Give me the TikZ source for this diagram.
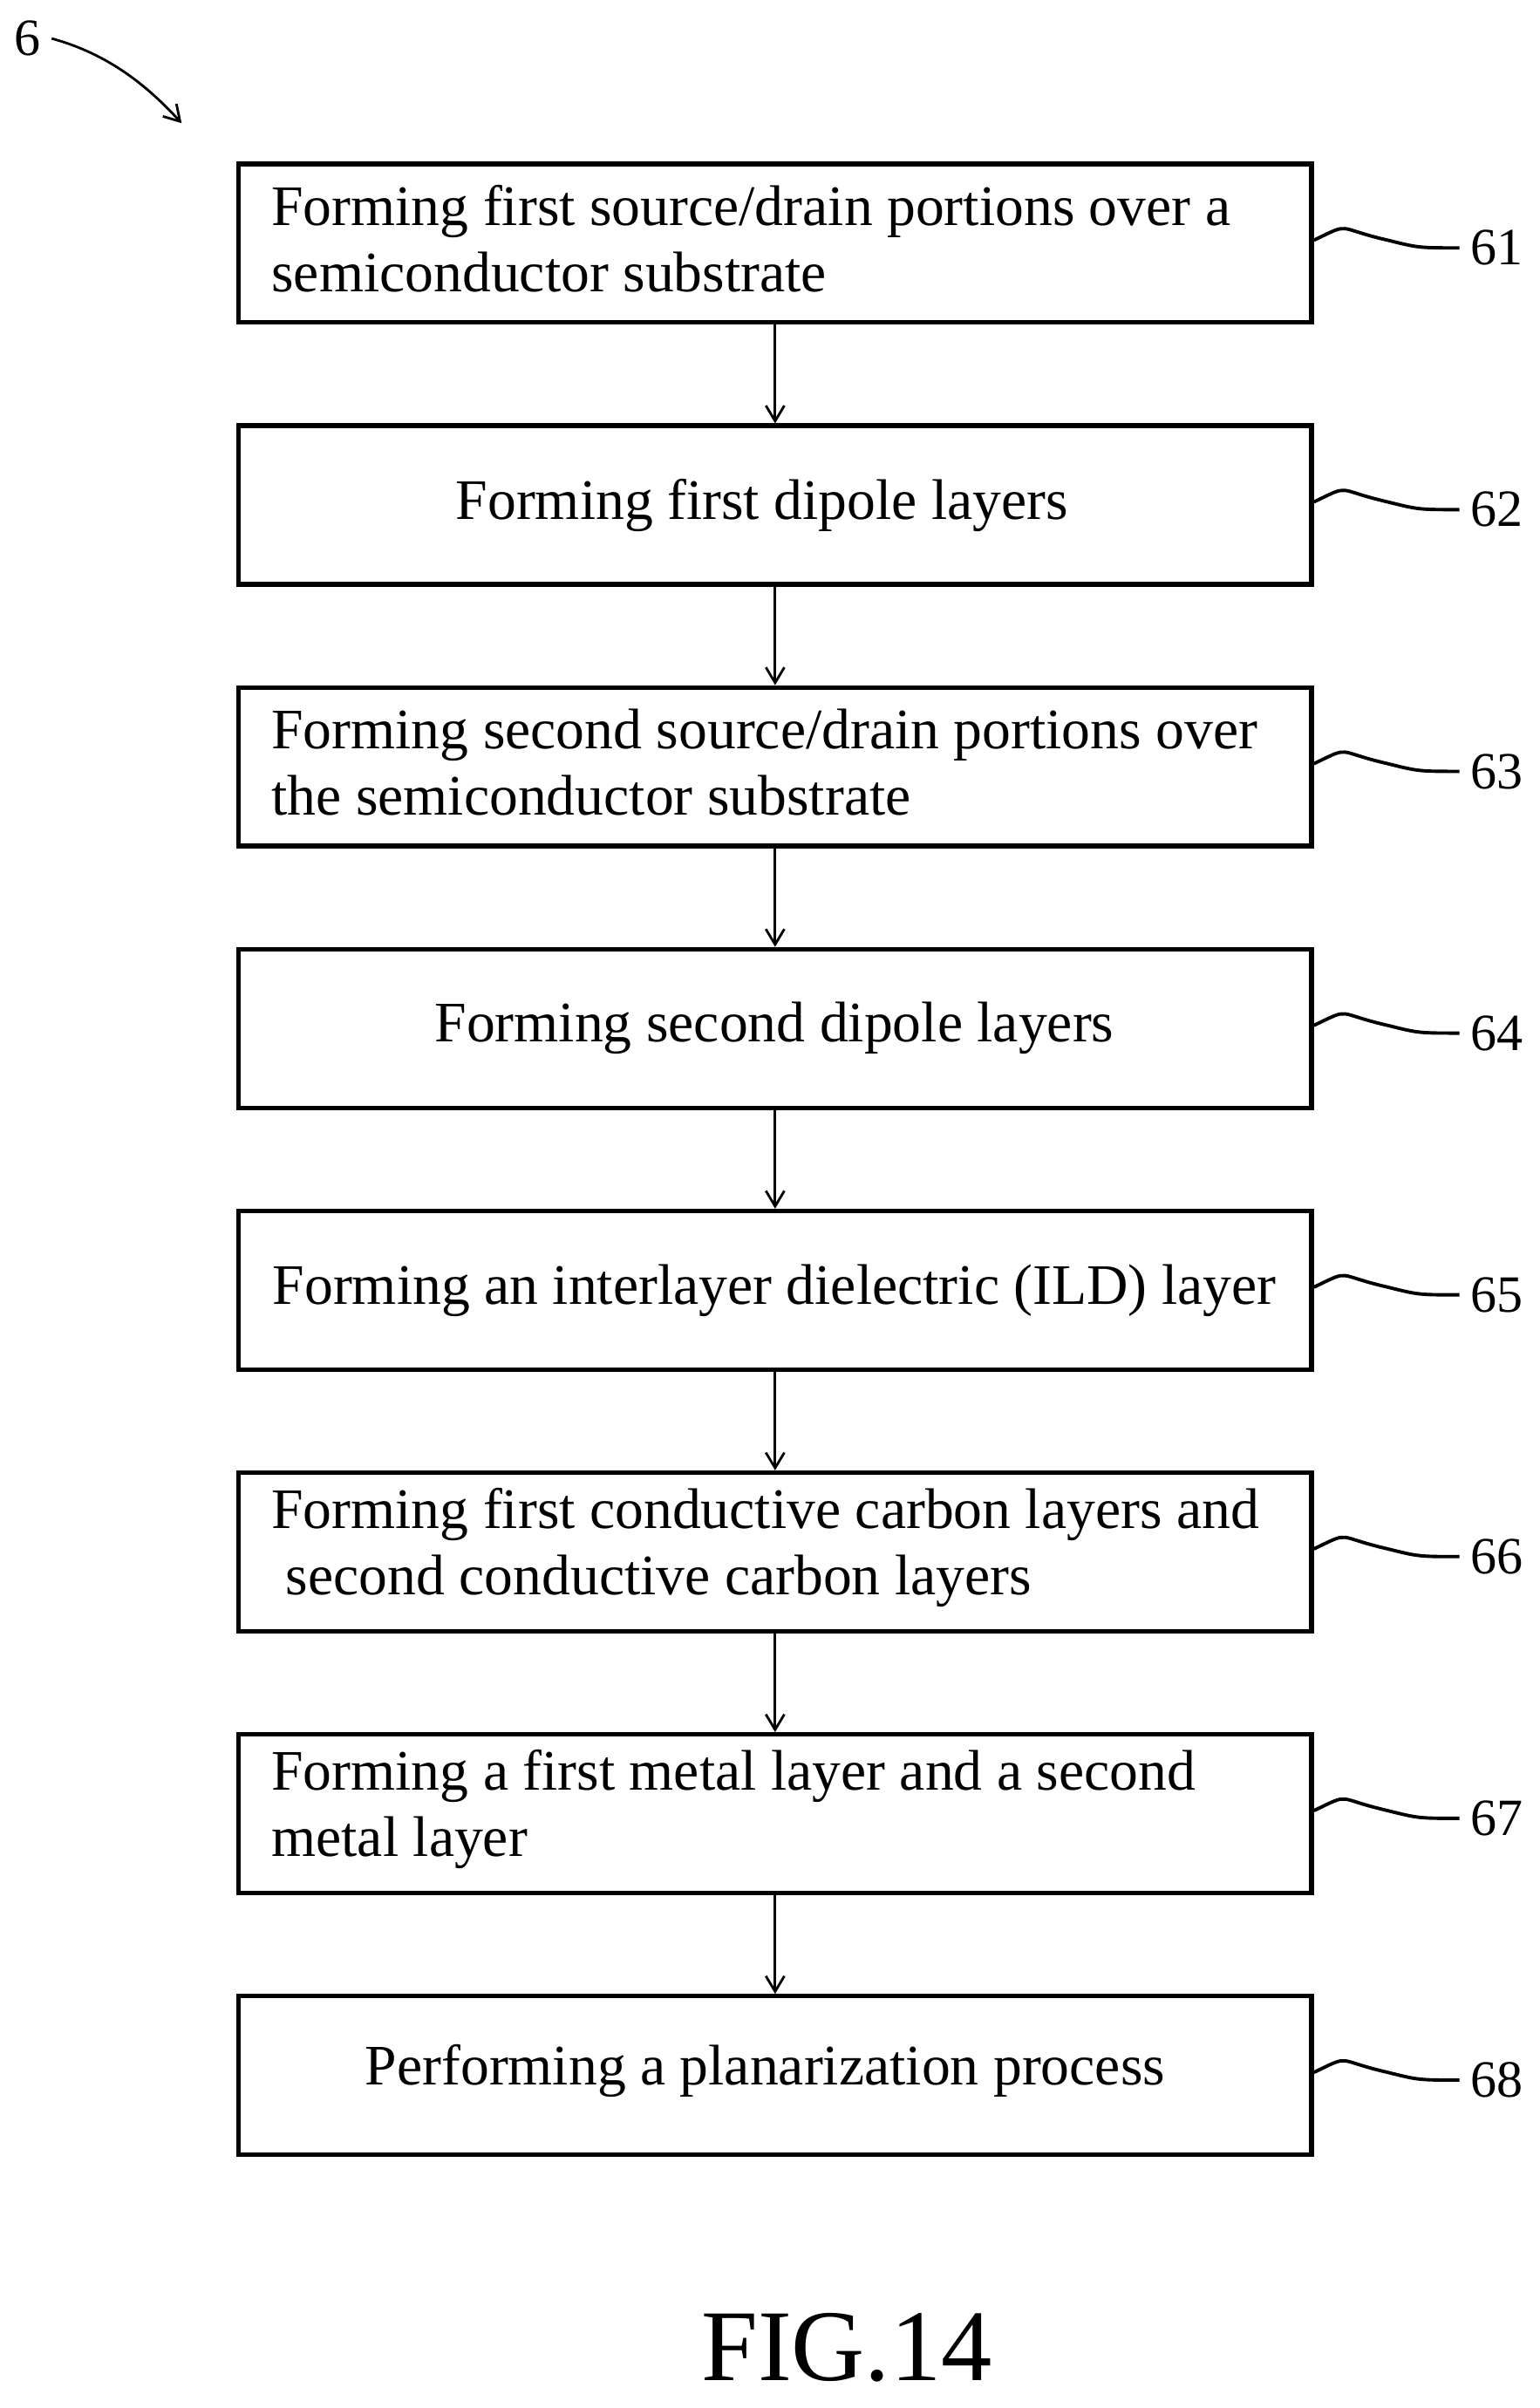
\documentclass[tikz,border=0pt]{standalone}
\usepackage{fontspec}
\setmainfont{Liberation Serif}
\usetikzlibrary{arrows.meta}
\begin{document}
\begin{tikzpicture}[x=0.5pt,y=-0.5pt,
 box/.style={draw,line width=1.5pt,minimum width=348.5pt,minimum height=51.5pt,inner sep=0pt},
 txt/.style={font=\fontsize{18.6}{21.5}\selectfont,align=left,inner sep=0pt},
 lab/.style={font=\fontsize{17}{20}\selectfont,anchor=west},
 con/.style={-{Straight Barb[length=5pt,width=6pt]},line width=0.8pt},
 sq/.style={line width=1.1pt}]
\useasboundingbox (0,0) rectangle (1000,1564);
\foreach \i in {1,...,8} \node[box] (b\i) at (503.5,{158+170*(\i-1)}) {};
\node[txt,anchor=west] (t1) at (176,155) {Forming first source/drain portions over a\\semiconductor substrate};
\node[txt] (t2) at (495,328) {Forming first dipole layers};
\node[txt,anchor=west] (t3) at (176,495) {Forming second source/drain portions over\\the semiconductor substrate};
\node[txt] (t4) at (503,668) {Forming second dipole layers};
\node[txt] (t5) at (503,838) {Forming an interlayer dielectric (ILD) layer};
\node[txt,anchor=west] (t6) at (176,1005) {Forming first conductive carbon layers and\\\ second conductive carbon layers};
\node[txt,anchor=west] (t7) at (176,1175) {Forming a first metal layer and a second\\metal layer};
\node[txt] (t8) at (497,1345) {Performing a planarization process};
\foreach \i/\n in {1/61,2/62,3/63,4/64,5/65,6/66,7/67,8/68}{
  \node[lab] (l\i) at (948,{158+170*(\i-1)+3}) {\n};
  \draw[sq] (b\i.east) ++(0,-2) .. controls ++(25,-12) and ++(-35,-8) .. ++(48,0) .. controls ++(20,5) .. (l\i.west);
}
\foreach \a/\b in {1/2,2/3,3/4,4/5,5/6,6/7,7/8} \draw[con] (b\a) -- (b\b);
\node[font=\fontsize{17}{20}\selectfont] (six) at (18,25) {6};
\coordinate (t) at (118,80);
\draw[con] (six.east) .. controls (70,35) and (95,55) .. (t);
\node[font=\fontsize{33}{38}\selectfont] (fig) at (550,1525) {FIG.14};
\end{tikzpicture}
\end{document}
